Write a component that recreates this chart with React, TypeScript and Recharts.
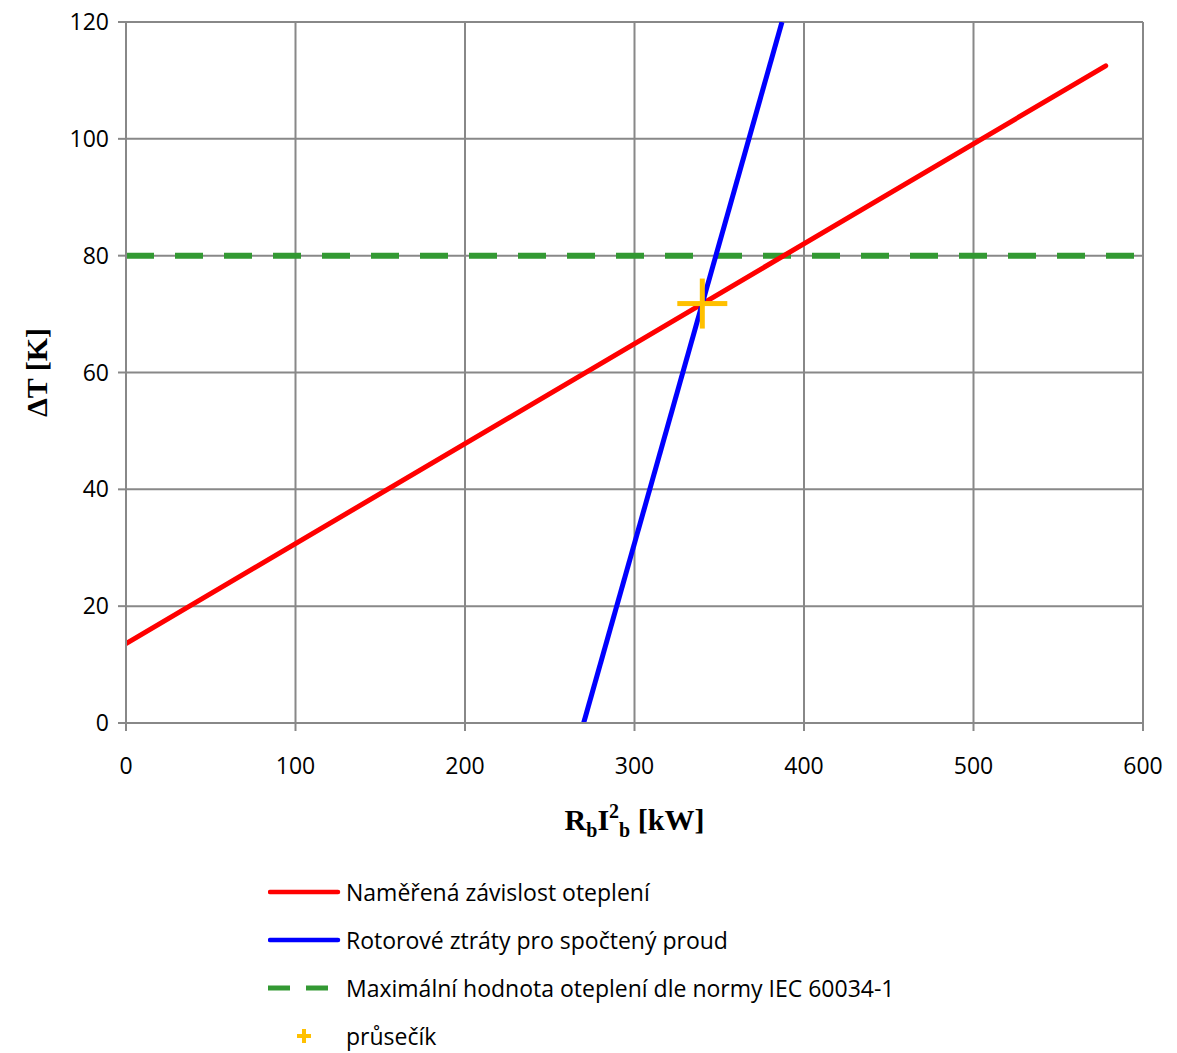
import { ComposedChart, Line, Scatter, XAxis, YAxis, CartesianGrid } from "recharts"

// measured dependence (line fit), rotor losses, IEC limit, intersection
const measured = [
    { x: 0, y: 13.6 },
    { x: 578, y: 112.5 },
]
const rotor = [
    { x: 270, y: 0 },
    { x: 387, y: 120 },
]
const limit = [
    { x: 0, y: 80 },
    { x: 600, y: 80 },
]
const intersection = [{ x: 340, y: 71.8 }]

const xTicks = [0, 100, 200, 300, 400, 500, 600]
const yTicks = [0, 20, 40, 60, 80, 100, 120]

const legendItems = [
    { name: "Naměřená závislost oteplení", kind: "line", color: "#ff0000" },
    { name: "Rotorové ztráty pro spočtený proud", kind: "line", color: "#0000ff" },
    { name: "Maximální hodnota oteplení dle normy IEC 60034-1", kind: "dash", color: "#339933" },
    { name: "průsečík", kind: "plus", color: "#ffc000" },
]

const font = "'Open Sans', sans-serif"

function Plus(props: any) {
    const { cx, cy } = props
    return (
        <g fill="#ffc000">
            <rect x={cx - 25} y={cy - 2.5} width={50} height={5} />
            <rect x={cx - 2.5} y={cy - 25} width={5} height={50} />
        </g>
    )
}

function LegendBox() {
    return (
        <div style={{ fontFamily: font, fontSize: 23, color: "#000" }}>
            {legendItems.map((it, i) => (
                <div
                    key={it.name}
                    style={{ position: "absolute", left: 268, top: 879 + i * 48, height: 26, lineHeight: "26px", display: "flex", alignItems: "center", whiteSpace: "nowrap" }}
                >
                    <svg width={78} height={20}>
                        {it.kind === "line" && (
                            <line x1={2} y1={10} x2={70} y2={10} stroke={it.color} strokeWidth={4.5} strokeLinecap="round" />
                        )}
                        {it.kind === "dash" && (
                            <g stroke={it.color} strokeWidth={5}>
                                <line x1={0} y1={10} x2={22} y2={10} />
                                <line x1={38} y1={10} x2={60} y2={10} />
                            </g>
                        )}
                        {it.kind === "plus" && (
                            <g fill={it.color}>
                                <rect x={29} y={8} width={14} height={4} />
                                <rect x={34} y={3} width={4} height={14} />
                            </g>
                        )}
                    </svg>
                    <span>{it.name}</span>
                </div>
            ))}
        </div>
    )
}

function XTitle(props: any) {
    const { viewBox } = props
    const cx = viewBox.x + viewBox.width / 2
    return (
        <text x={cx} y={830} textAnchor="middle" fontFamily="'Liberation Serif', serif" fontWeight="bold" fontSize={30} fill="#000">
            R<tspan fontSize={20} dy={7}>b</tspan>
            <tspan dy={-7}>I</tspan>
            <tspan fontSize={20} dy={-12}>2</tspan>
            <tspan fontSize={20} dy={19}>b</tspan>
            <tspan dy={-7}> [kW]</tspan>
        </text>
    )
}

function YTitle(props: any) {
    const { viewBox } = props
    const cy = viewBox.y + viewBox.height / 2
    return (
        <text x={36} y={cy} transform={`rotate(-90 36 ${cy})`} textAnchor="middle" dominantBaseline="central" fontFamily="'Liberation Serif', serif" fontWeight="bold" fontSize={30} fill="#000">
            ΔT [K]
        </text>
    )
}

export default function App() {
    return (
        <div style={{ position: "absolute", left: 0, top: 0, width: 1177, height: 1053, background: "#fff", overflow: "hidden" }}>
            <ComposedChart width={1177} height={1053} margin={{ top: 22, right: 34, left: 66, bottom: 200 }}>
                <CartesianGrid stroke="#888888" strokeWidth={2} />
                <XAxis
                    type="number"
                    dataKey="x"
                    domain={[0, 600]}
                    ticks={xTicks}
                    height={130}
                    stroke="#888888"
                    strokeWidth={2}
                    tickSize={8}
                    tickMargin={27}
                    tick={{ fill: "#000", fontSize: 23, fontFamily: font }}
                    label={<XTitle />}
                    allowDataOverflow
                />
                <YAxis
                    type="number"
                    dataKey="y"
                    domain={[0, 120]}
                    ticks={yTicks}
                    width={60}
                    stroke="#888888"
                    strokeWidth={2}
                    tickSize={8}
                    tickMargin={9}
                    tick={{ fill: "#000", fontSize: 23, fontFamily: font }}
                    label={<YTitle />}
                    allowDataOverflow
                />
                <Line data={limit} dataKey="y" name="limit" stroke="#339933" strokeWidth={6} strokeDasharray="28 21" dot={false} isAnimationActive={false} />
                <Line data={measured} dataKey="y" name="measured" stroke="#ff0000" strokeWidth={5} strokeLinecap="round" dot={false} isAnimationActive={false} />
                <Line data={rotor} dataKey="y" name="rotor" stroke="#0000ff" strokeWidth={5} dot={false} isAnimationActive={false} />
                <Scatter data={intersection} dataKey="y" name="intersection" fill="#ffc000" shape={<Plus />} isAnimationActive={false} />
            </ComposedChart>
            <LegendBox />
        </div>
    )
}
